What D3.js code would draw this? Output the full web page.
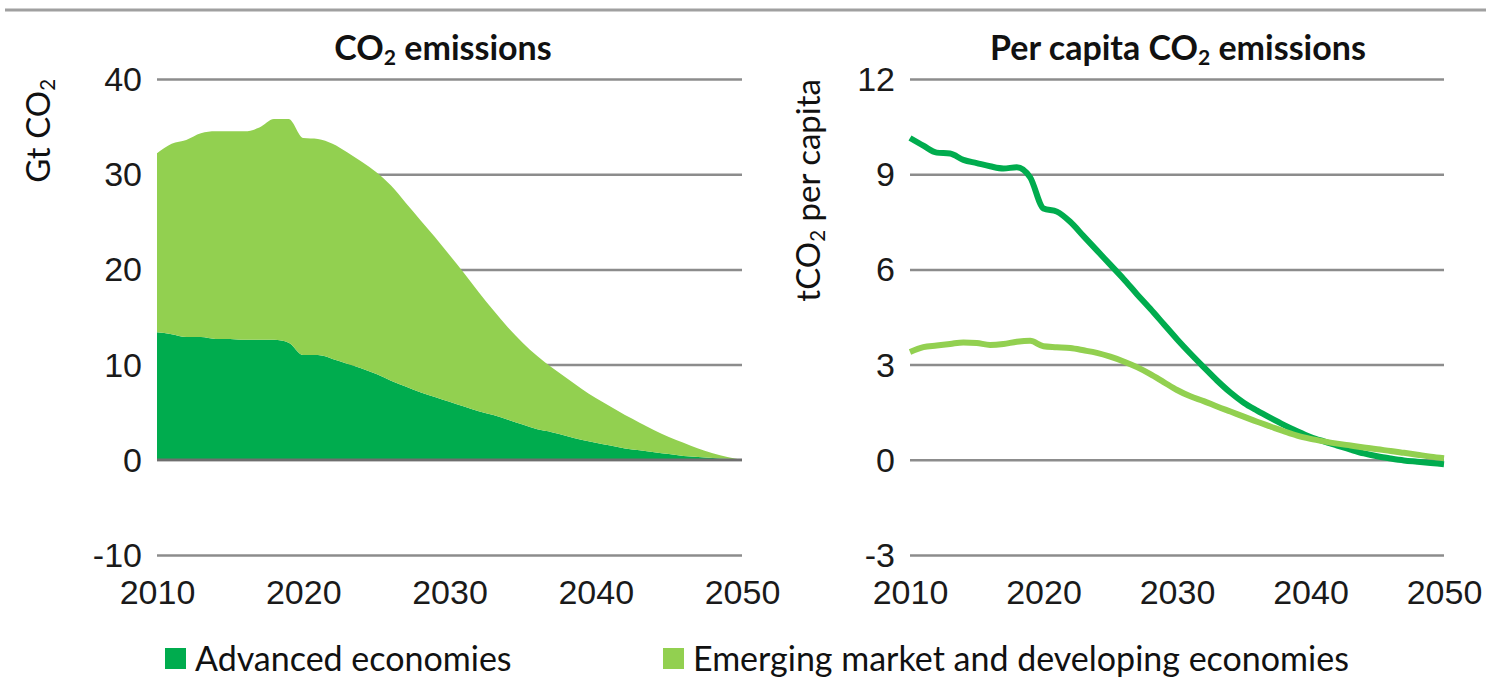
<!DOCTYPE html>
<html>
<head>
<meta charset="utf-8">
<script src="https://cdn.jsdelivr.net/npm/d3@7"></script>
<style>
  body { margin: 0; background: #fff; }
  svg { display: block; font-family: Lato, "Open Sans", sans-serif; }
  .grid line { stroke: #8c8c8c; stroke-width: 2.5; }
  .grid .domain { display: none; }
  .tick text { fill: #1a1a1a; }
</style>
</head>
<body>
<div id="chart"></div>
<script>
'use strict';
var years = d3.range(2010, 2051);

// Gt CO2, stacked area
var advancedEmissions = [13.4, 13.2, 12.9, 12.9, 12.7, 12.7, 12.6, 12.6, 12.6, 12.3,
    11.0, 11.0, 10.6, 10.1, 9.6, 9.0, 8.3, 7.7, 7.1, 6.6,
    6.1, 5.6, 5.1, 4.7, 4.2, 3.7, 3.2, 2.9, 2.5, 2.1,
    1.8, 1.5, 1.2, 1.0, 0.8, 0.6, 0.4, 0.3, 0.2, 0.1, 0];
var totalEmissions = [32.2, 33.2, 33.6, 34.3, 34.5, 34.5, 34.5, 34.9, 35.8, 35.8,
    33.8, 33.7, 33.2, 32.3, 31.3, 30.2, 28.8, 27.0, 25.2, 23.4,
    21.5, 19.6, 17.6, 15.7, 13.9, 12.3, 10.9, 9.7, 8.6, 7.5,
    6.5, 5.6, 4.7, 3.9, 3.1, 2.4, 1.8, 1.2, 0.7, 0.3, 0];

// tCO2 per capita
var advancedPerCapita = [10.14, 9.9, 9.68, 9.65, 9.45, 9.35, 9.25, 9.18, 9.22, 8.9,
    7.92, 7.82, 7.5, 7.05, 6.6, 6.15, 5.7, 5.22, 4.76, 4.28,
    3.8, 3.35, 2.92, 2.5, 2.12, 1.8, 1.55, 1.32, 1.1, 0.9,
    0.72, 0.58, 0.45, 0.32, 0.2, 0.11, 0.04, -0.02, -0.06, -0.1, -0.14];
var emergingPerCapita = [3.4, 3.55, 3.6, 3.65, 3.7, 3.68, 3.62, 3.65, 3.72, 3.75,
    3.58, 3.55, 3.52, 3.45, 3.37, 3.25, 3.1, 2.92, 2.7, 2.45,
    2.2, 2.0, 1.85, 1.68, 1.52, 1.36, 1.2, 1.05, 0.9, 0.76,
    0.66, 0.58, 0.51, 0.45, 0.39, 0.33, 0.28, 0.22, 0.16, 0.1, 0.05];

var xTicks = [2010, 2020, 2030, 2040, 2050];
var leftYTicks = [-10, 0, 10, 20, 30, 40];
var rightYTicks = [-3, 0, 3, 6, 9, 12];
var seriesNames = ["Advanced economies", "Emerging market and developing economies"];
var colors = ["#00ac4e", "#92d050"];

var width = 1486, height = 678;
var svg = d3.select("#chart").append("svg")
    .attr("width", width)
    .attr("height", height);

// grey rule at top
svg.append("line")
    .attr("x1", 5).attr("x2", width)
    .attr("y1", 10).attr("y2", 10)
    .attr("stroke", "#a0a0a0").attr("stroke-width", 3);

var yRange = [555, 79];
var tickFont = 34;

function subText(sel, parts) {
    // parts: array of [text, isSub]
    parts.forEach(function (p, i) {
        var t = sel.append("tspan").text(p[0]);
        if (p[1]) t.attr("font-size", "0.62em").attr("dy", "0.22em");
        else if (i > 0) t.attr("dy", "-0.135em");
    });
}

function drawPanel(x0, x1, yDomain, yTicks) {
    var x = d3.scaleLinear().domain([2010, 2050]).range([x0, x1]);
    var y = d3.scaleLinear().domain(yDomain).range(yRange);
    var g = svg.append("g");

    var grid = g.append("g")
        .attr("class", "grid")
        .attr("transform", "translate(" + x0 + ",0)")
        .call(d3.axisLeft(y).tickValues(yTicks).tickSize(-(x1 - x0)).tickFormat(String));
    grid.selectAll("text")
        .attr("font-size", tickFont)
        .attr("x", -15)
        .attr("dy", "0.34em");

    var xAxis = g.append("g")
        .attr("transform", "translate(0," + yRange[0] + ")")
        .call(d3.axisBottom(x).tickValues(xTicks).tickSize(0).tickFormat(String));
    xAxis.select(".domain").remove();
    xAxis.selectAll("text")
        .attr("font-size", tickFont)
        .attr("y", 25)
        .attr("dy", "0.71em");
    return {x: x, y: y, g: g};
}

// ---- left panel: stacked area ----
var left = drawPanel(157, 742, [-10, 40], leftYTicks);
var emerging = totalEmissions.map(function (d, i) { return d - advancedEmissions[i]; });
var table = years.map(function (yr, i) {
    return {year: yr, adv: advancedEmissions[i], emg: emerging[i]};
});
var stack = d3.stack().keys(["adv", "emg"])(table);
var area = d3.area()
    .x(function (d) { return left.x(d.data.year); })
    .y0(function (d) { return left.y(d[0]); })
    .y1(function (d) { return left.y(d[1]); })
    .curve(d3.curveMonotoneX);
left.g.selectAll(".layer")
    .data(stack)
    .enter().append("path")
    .attr("class", "layer")
    .attr("fill", function (d, i) { return colors[i]; })
    .attr("d", area);
// zero line sits above the areas
left.g.append("line")
    .attr("x1", left.x(2010)).attr("x2", left.x(2050))
    .attr("y1", left.y(0)).attr("y2", left.y(0))
    .attr("stroke", "#6e6e6e").attr("stroke-width", 2.5);

// ---- right panel: lines ----
var right = drawPanel(910, 1444, [-3, 12], rightYTicks);
var line = d3.line()
    .x(function (d, i) { return right.x(years[i]); })
    .y(function (d) { return right.y(d); })
    .curve(d3.curveMonotoneX);
right.g.selectAll(".series")
    .data([advancedPerCapita, emergingPerCapita])
    .enter().append("path")
    .attr("class", "series")
    .attr("fill", "none")
    .attr("stroke", function (d, i) { return colors[i]; })
    .attr("stroke-width", 6)
    .attr("stroke-linejoin", "round")
    .attr("d", line);

// ---- titles ----
var t1 = svg.append("text")
    .attr("x", 443).attr("y", 60)
    .attr("text-anchor", "middle")
    .attr("font-size", 34).attr("font-weight", "bold").attr("fill", "#111");
subText(t1, [["CO", false], ["2", true], [" emissions", false]]);

var t2 = svg.append("text")
    .attr("x", 1178).attr("y", 60)
    .attr("text-anchor", "middle")
    .attr("font-size", 34).attr("font-weight", "bold").attr("fill", "#111");
subText(t2, [["Per capita CO", false], ["2", true], [" emissions", false]]);

// ---- axis titles ----
var yl = svg.append("text")
    .attr("transform", "translate(50,79) rotate(-90)")
    .attr("text-anchor", "end")
    .attr("font-size", 33).attr("fill", "#111");
subText(yl, [["Gt CO", false], ["2", true]]);

var yr = svg.append("text")
    .attr("transform", "translate(820,79) rotate(-90)")
    .attr("text-anchor", "end")
    .attr("font-size", 33).attr("fill", "#111");
subText(yr, [["tCO", false], ["2", true], [" per capita", false]]);

// ---- legend ----
var legendX = [165, 663];
var legend = svg.selectAll(".legend")
    .data(seriesNames)
    .enter().append("g")
    .attr("class", "legend")
    .attr("transform", function (d, i) { return "translate(" + legendX[i] + ",648)"; });
legend.append("rect")
    .attr("width", 21).attr("height", 21)
    .attr("fill", function (d, i) { return colors[i]; });
legend.append("text")
    .attr("x", 30).attr("y", 23)
    .attr("font-size", 34).attr("fill", "#111")
    .text(function (d) { return d; });
</script>
</body>
</html>
